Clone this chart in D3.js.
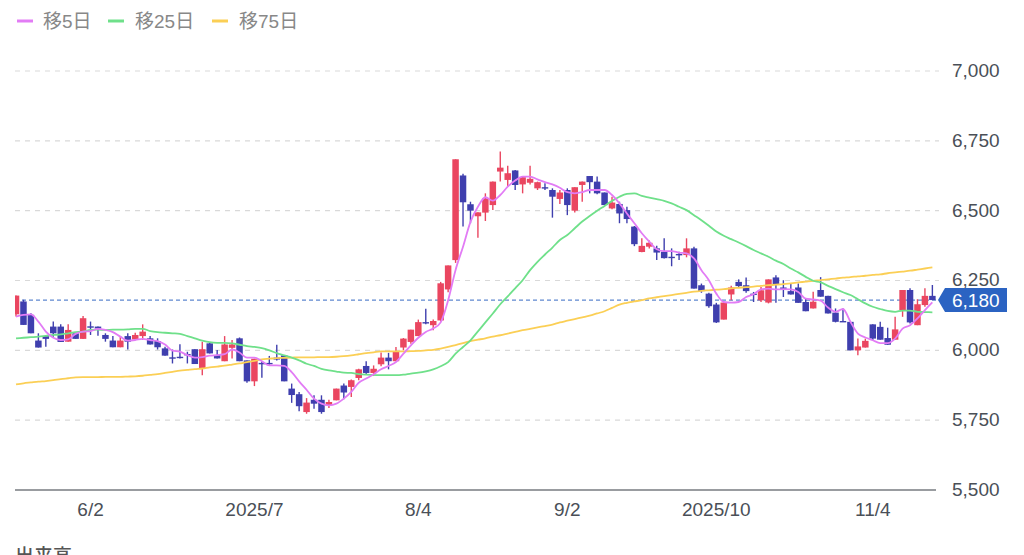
<!DOCTYPE html>
<html lang="ja">
<head>
<meta charset="utf-8">
<title>株価チャート</title>
<script src="https://cdn.jsdelivr.net/npm/d3@7"></script>
<style>
  html, body { margin: 0; padding: 0; background: #fff; overflow: hidden; }
  svg { display: block; font-family: "Liberation Sans", "Noto Sans CJK JP", sans-serif; }
</style>
</head>
<body>
<div id="chart"></div>
<script>
const categories = d3.range(124);
const tickCandles = [10, 32, 54, 74, 94, 115];
const tickLabels = ['6/2', '2025/7', '8/4', '9/2', '2025/10', '11/4'];
const priceTicks = [5500, 5750, 6000, 6250, 6500, 6750, 7000];
const lastPrice = 6180;

const opens = [
  6129, 6175, 6127, 6035, 6051, 6085, 6085, 6031, 6061, 6041,
  6086, 6085, 6055, 6035, 6011, 6051, 6039, 6051, 6043, 6033,
  6007, 5975, 5977, 5987, 6004, 5935, 6025, 5983, 5961, 6009,
  6043, 5964, 5889, 5955, 5955, 5974, 5982, 5863, 5843, 5779,
  5823, 5823, 5803, 5821, 5874, 5869, 5901, 5944, 5919, 5950,
  5974, 5961, 6010, 6030, 6051, 6101, 6090, 6107, 6218, 6323,
  6626, 6523, 6480, 6493, 6520, 6640, 6610, 6644, 6594, 6600,
  6580, 6584, 6574, 6542, 6574, 6500, 6592, 6624, 6604, 6565,
  6508, 6524, 6502, 6443, 6352, 6371, 6365, 6353, 6335, 6345,
  6341, 6365, 6233, 6203, 6164, 6110, 6200, 6245, 6233, 6203,
  6179, 6171, 6261, 6225, 6212, 6225, 6173, 6150, 6216, 6195,
  6135, 6105, 6102, 6000, 6010, 6093, 6084, 6044, 6038, 6144,
  6216, 6090, 6162, 6195
];
const closes = [
  6196, 6091, 6061, 6010, 6041, 6061, 6030, 6073, 6041, 6115,
  6081, 6078, 6041, 6011, 6035, 6031, 6055, 6067, 6021, 6011,
  5981, 5971, 5973, 5984, 5951, 6004, 5989, 5971, 6021, 6021,
  5961, 5889, 5970, 5950, 5950, 5967, 5889, 5840, 5800, 5813,
  5809, 5779, 5815, 5863, 5849, 5893, 5932, 5919, 5934, 5974,
  5961, 5994, 6042, 6074, 6101, 6098, 6105, 6240, 6304, 6684,
  6530, 6500, 6494, 6544, 6604, 6654, 6634, 6592, 6620, 6614,
  6602, 6580, 6550, 6565, 6520, 6584, 6604, 6602, 6562, 6520,
  6529, 6490, 6470, 6380, 6374, 6385, 6350, 6330, 6331, 6341,
  6365, 6221, 6212, 6158, 6100, 6171, 6225, 6230, 6212, 6199,
  6215, 6254, 6236, 6221, 6200, 6170, 6140, 6174, 6192, 6132,
  6102, 6101, 6000, 6014, 6034, 6042, 6038, 6020, 6075, 6216,
  6100, 6165, 6195, 6180
];
const highs = [
  6196, 6181, 6133, 6061, 6055, 6103, 6093, 6093, 6061, 6123,
  6103, 6085, 6061, 6051, 6049, 6061, 6063, 6093, 6051, 6043,
  6013, 6003, 6022, 5995, 6004, 6031, 6028, 6001, 6051, 6037,
  6046, 5964, 5970, 5961, 5980, 6020, 5982, 5881, 5851, 5829,
  5839, 5839, 5823, 5863, 5881, 5896, 5934, 5961, 5946, 5992,
  5991, 6012, 6044, 6074, 6110, 6149, 6110, 6245, 6304, 6684,
  6632, 6532, 6494, 6562, 6604, 6712, 6661, 6646, 6624, 6661,
  6604, 6598, 6580, 6574, 6580, 6584, 6604, 6624, 6622, 6565,
  6550, 6532, 6514, 6445, 6401, 6393, 6374, 6401, 6365, 6353,
  6401, 6371, 6239, 6206, 6170, 6173, 6231, 6254, 6261, 6209,
  6227, 6254, 6269, 6251, 6239, 6239, 6185, 6210, 6262, 6195,
  6150, 6150, 6102, 6042, 6042, 6093, 6102, 6081, 6120, 6216,
  6222, 6183, 6222, 6234
];
const lows = [
  6121, 6091, 6061, 6010, 6013, 6049, 6030, 6031, 6041, 6041,
  6055, 6052, 6031, 6011, 6011, 6003, 6037, 6037, 6021, 6003,
  5981, 5953, 5971, 5953, 5951, 5911, 5989, 5971, 5961, 5971,
  5961, 5884, 5872, 5902, 5949, 5964, 5889, 5812, 5782, 5773,
  5791, 5773, 5794, 5821, 5825, 5833, 5893, 5914, 5908, 5943,
  5932, 5961, 6000, 6024, 6051, 6093, 6072, 6103, 6208, 6313,
  6443, 6455, 6403, 6463, 6502, 6604, 6586, 6574, 6562, 6594,
  6574, 6574, 6475, 6524, 6484, 6493, 6532, 6562, 6559, 6520,
  6505, 6455, 6455, 6373, 6351, 6365, 6323, 6329, 6301, 6323,
  6333, 6221, 6206, 6152, 6098, 6110, 6179, 6224, 6206, 6173,
  6173, 6168, 6170, 6191, 6200, 6170, 6140, 6150, 6192, 6132,
  6100, 6101, 6000, 5982, 6010, 6036, 6038, 6020, 6038, 6120,
  6096, 6090, 6156, 6180
];

const ma5 = [
  6121, 6127, 6129, 6103, 6067, 6045, 6037, 6039, 6059, 6067,
  6069, 6077, 6073, 6065, 6049, 6035, 6037, 6041, 6037, 6033,
  6021, 5999, 5995, 5983, 5974, 5976, 5981, 5983, 5986, 6003,
  5992, 5974, 5974, 5961, 5946, 5946, 5944, 5922, 5889, 5859,
  5827, 5809, 5803, 5809, 5827, 5851, 5884, 5899, 5914, 5932,
  5944, 5958, 5988, 6018, 6045, 6066, 6078, 6100, 6179, 6288,
  6371, 6460, 6514, 6548, 6536, 6556, 6586, 6608, 6622, 6622,
  6612, 6602, 6594, 6582, 6566, 6562, 6566, 6574, 6574, 6574,
  6556, 6526, 6490, 6455, 6419, 6389, 6362, 6355, 6355, 6350,
  6347, 6329, 6287, 6251, 6203, 6173, 6171, 6173, 6191, 6201,
  6218, 6221, 6218, 6219, 6218, 6209, 6185, 6182, 6178, 6153,
  6138, 6148, 6102, 6060, 6046, 6036, 6026, 6026, 6042, 6078,
  6090, 6114, 6144, 6172
];
const ma25 = [
  6043, 6045, 6047, 6049, 6052, 6055, 6057, 6061, 6065, 6067,
  6073, 6074, 6073, 6074, 6074, 6075, 6077, 6077, 6069, 6065,
  6063, 6061, 6059, 6051, 6043, 6035, 6029, 6027, 6027, 6025,
  6020, 6015, 6012, 6008, 6000, 5990, 5982, 5974, 5964, 5952,
  5944, 5934, 5928, 5924, 5920, 5919, 5915, 5913, 5912, 5911,
  5911, 5911, 5913, 5917, 5920, 5925, 5932, 5943, 5958, 5988,
  6012, 6036, 6068, 6100, 6132, 6165, 6193, 6222, 6251, 6287,
  6317, 6343, 6368, 6395, 6413, 6437, 6461, 6481, 6500, 6517,
  6535, 6550, 6560, 6562, 6553, 6547, 6541, 6535, 6526, 6514,
  6502, 6484, 6466, 6446, 6425, 6410, 6398, 6386, 6373, 6359,
  6347, 6335, 6321, 6309, 6293, 6279, 6263, 6249, 6243, 6231,
  6219, 6208, 6198, 6183, 6168, 6156, 6148, 6141, 6138, 6142,
  6142, 6138, 6137, 6136
];
const ma75 = [
  5878, 5882, 5885, 5888, 5890, 5893, 5897, 5900, 5903, 5904,
  5904, 5904, 5905, 5905, 5905, 5906, 5907, 5909, 5912, 5915,
  5919, 5923, 5927, 5930, 5933, 5935, 5939, 5942, 5945, 5949,
  5953, 5958, 5962, 5968, 5970, 5972, 5973, 5974, 5975, 5975,
  5975, 5976, 5976, 5977, 5979, 5982, 5986, 5990, 5993, 5996,
  5996, 5996, 5996, 5997, 5998, 6000, 6002, 6006, 6012, 6019,
  6026, 6033, 6038, 6043, 6049, 6054, 6060, 6066, 6072, 6077,
  6082, 6087, 6092, 6100, 6106, 6112, 6118, 6124, 6132, 6140,
  6152, 6164, 6170, 6175, 6180, 6186, 6190, 6194, 6198, 6202,
  6206, 6210, 6213, 6215, 6217, 6219, 6222, 6224, 6226, 6228,
  6231, 6233, 6235, 6237, 6240, 6243, 6246, 6249, 6251, 6254,
  6257, 6260, 6262, 6265, 6267, 6270, 6272, 6276, 6279, 6282,
  6285, 6289, 6293, 6297
];

const legendNames = ['移5日', '移25日', '移75日'];
const lineColors = ['#e27cf5', '#6fe08a', '#fbcf55'];
const lineSeries = [ma5, ma25, ma75];

const width = 1024;
const height = 555;
const plotLeft = 15;
const plotRight = 936;
const fontSize = 19;

const x = d3.scaleBand().domain(categories).range([12.3, 936.1]);
const y = d3.scaleLinear().domain([5500, 7000]).range([490, 71]);
const cx = (i) => x(i) + x.bandwidth() / 2;

const svg = d3
  .select('#chart')
  .append('svg')
  .attr('width', width)
  .attr('height', height);

svg
  .append('clipPath')
  .attr('id', 'plot-clip')
  .append('rect')
  .attr('x', plotLeft)
  .attr('y', 0)
  .attr('width', plotRight - plotLeft)
  .attr('height', 490);

// grid
svg
  .append('g')
  .selectAll('line')
  .data(priceTicks.filter((d) => d > 5500))
  .join('line')
  .attr('x1', plotLeft)
  .attr('x2', 939)
  .attr('y1', (d) => y(d))
  .attr('y2', (d) => y(d))
  .attr('stroke', '#d9d9d9')
  .attr('stroke-width', 1.2)
  .attr('stroke-dasharray', '5 5');

// last price line
svg
  .append('line')
  .attr('x1', plotLeft)
  .attr('x2', plotRight)
  .attr('y1', y(lastPrice))
  .attr('y2', y(lastPrice))
  .attr('stroke', '#5f88cf')
  .attr('stroke-width', 1.2)
  .attr('stroke-dasharray', '4 3');

const plot = svg.append('g').attr('clip-path', 'url(#plot-clip)');

const candleColor = (i) => (closes[i] >= opens[i] ? '#ea4660' : '#3f3fae');

plot
  .append('g')
  .selectAll('line')
  .data(categories)
  .join('line')
  .attr('x1', cx)
  .attr('x2', cx)
  .attr('y1', (i) => y(highs[i]))
  .attr('y2', (i) => y(lows[i]))
  .attr('stroke', candleColor)
  .attr('stroke-width', 1.4);

plot
  .append('g')
  .selectAll('rect')
  .data(categories)
  .join('rect')
  .attr('x', (i) => cx(i) - 3.25)
  .attr('width', 6.5)
  .attr('y', (i) => y(Math.max(opens[i], closes[i])))
  .attr('height', (i) => Math.max(1.4, Math.abs(y(opens[i]) - y(closes[i]))))
  .attr('fill', candleColor);

const line = d3
  .line()
  .x((d, i) => cx(i))
  .y((d) => y(d))
  .curve(d3.curveMonotoneX);

plot
  .append('g')
  .selectAll('path')
  .data([ma75, ma25, ma5])
  .join('path')
  .attr('d', line)
  .attr('fill', 'none')
  .attr('stroke', (d) => lineColors[lineSeries.indexOf(d)])
  .attr('stroke-width', 1.8);

// x axis
const xAxis = svg
  .append('g')
  .attr('transform', 'translate(0,490)')
  .call(
    d3
      .axisBottom(x)
      .tickValues(tickCandles)
      .tickFormat((d) => tickLabels[tickCandles.indexOf(d)])
      .tickSize(0)
      .tickPadding(12.5),
  );
xAxis.select('.domain').remove();
xAxis.selectAll('text').attr('font-size', fontSize).attr('fill', '#4a4f57').attr('font-family', null);

svg
  .append('line')
  .attr('x1', plotLeft)
  .attr('x2', plotRight)
  .attr('y1', 490)
  .attr('y2', 490)
  .attr('stroke', '#777b80')
  .attr('stroke-width', 1.5);

// y axis
const yAxis = svg
  .append('g')
  .attr('transform', 'translate(952,-0.7)')
  .call(d3.axisRight(y).tickValues(priceTicks).tickFormat(d3.format(',')).tickSize(0).tickPadding(0));
yAxis.select('.domain').remove();
yAxis.selectAll('text').attr('font-size', fontSize).attr('fill', '#4a4f57').attr('font-family', null);

// last price badge
const badgeY = y(lastPrice);
svg
  .append('path')
  .attr('d', d3.line()([[938, badgeY], [945, badgeY - 12], [1007, badgeY - 12], [1007, badgeY + 12], [945, badgeY + 12]]) + 'Z')
  .attr('fill', '#2b63c2');
svg
  .append('text')
  .attr('x', 952)
  .attr('y', badgeY)
  .attr('dy', '0.36em')
  .attr('font-size', fontSize)
  .attr('fill', '#fff')
  .text(d3.format(',')(lastPrice));

// legend
const legendSwatch = [17, 108, 212];
const legendText = [43, 135, 239];
const legend = svg.append('g');
legendNames.forEach((name, i) => {
  legend
    .append('line')
    .attr('x1', legendSwatch[i])
    .attr('x2', legendSwatch[i] + 16)
    .attr('y1', 21)
    .attr('y2', 21)
    .attr('stroke', lineColors[i])
    .attr('stroke-width', 3);
  legend
    .append('text')
    .attr('x', legendText[i])
    .attr('y', 27.5)
    .attr('font-size', fontSize)
    .attr('fill', '#888')
    .text(name);
});

// next panel title, cut off by the window
svg
  .append('text')
  .attr('x', 15)
  .attr('y', 563)
  .attr('font-size', 19)
  .attr('font-weight', 500)
  .attr('fill', '#555')
  .text('出来高');
</script>
</body>
</html>
